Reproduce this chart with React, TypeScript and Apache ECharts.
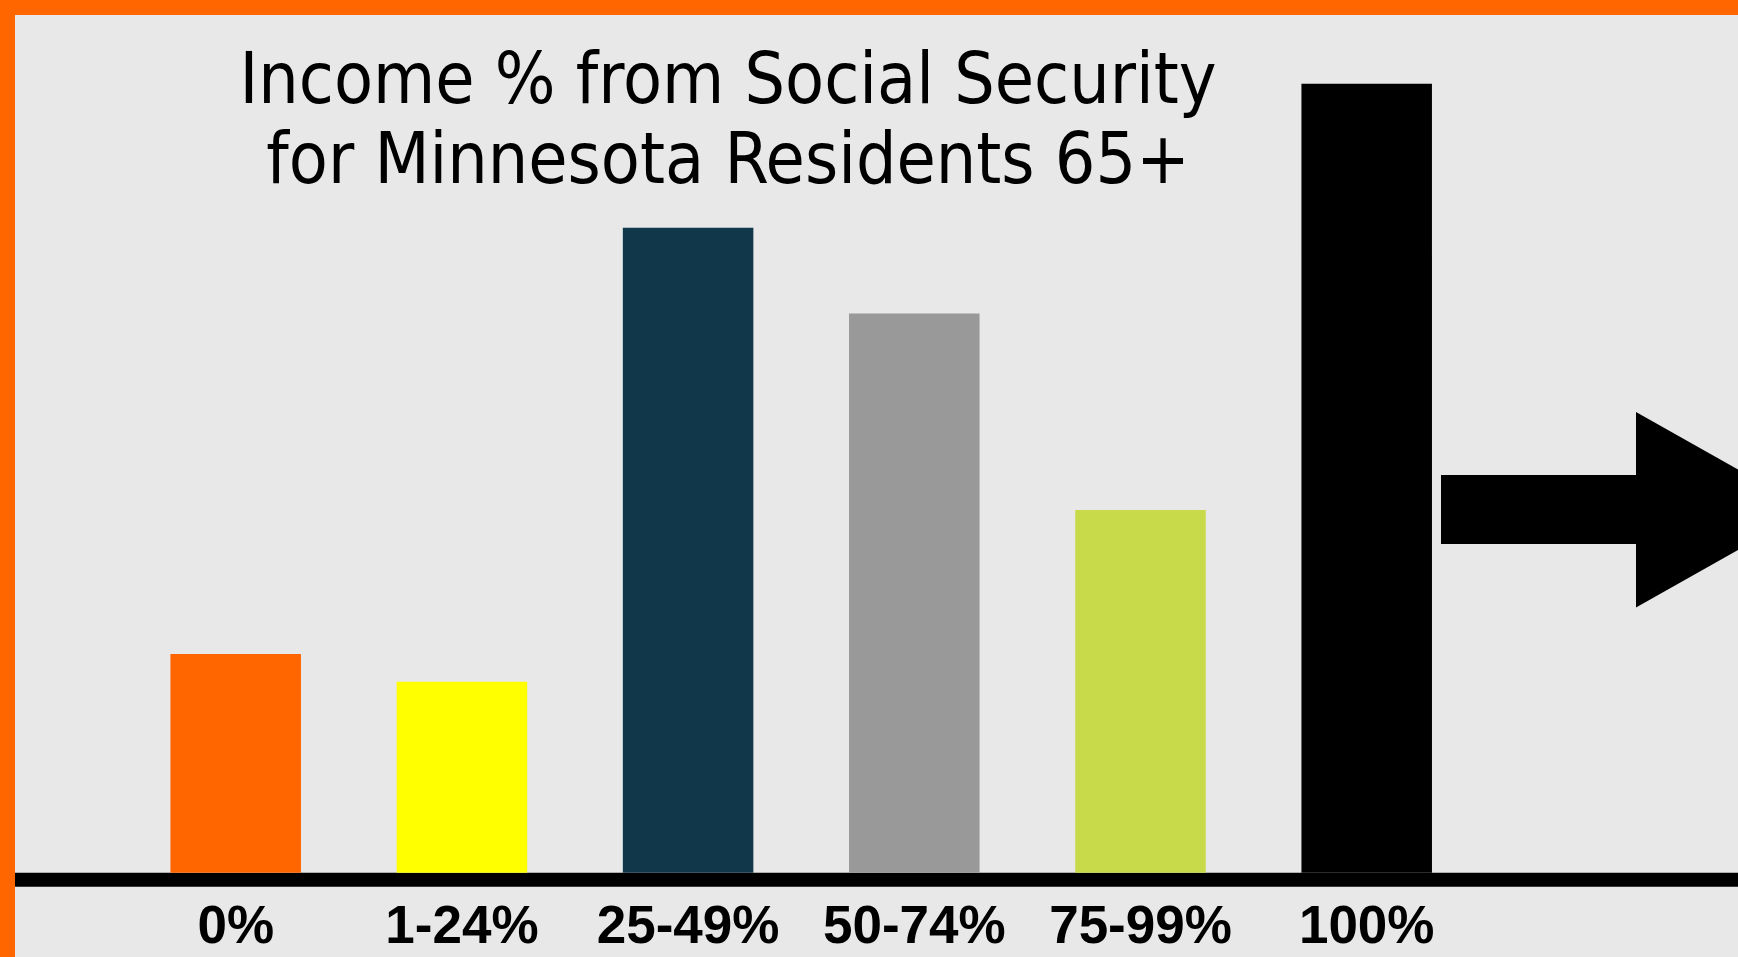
import React, { useEffect, useRef } from "react";
import * as echarts from "echarts";

// ---- data ----
const categories = ["0%", "1-24%", "25-49%", "50-74%", "75-99%", "100%"];
const shares = [7.9, 6.9, 23.3, 20.2, 13.1, 28.5];
const barColors = ["#ff6600", "#ffff00", "#11374a", "#999999", "#c8da4a", "#000000"];
const titleLines = ["Income % from Social Security", "for Minnesota Residents 65+"];

const W = 1738;
const H = 957;

export default function App() {
  const ref = useRef<HTMLDivElement>(null);

  useEffect(() => {
    if (!ref.current) return;
    const chart = echarts.init(ref.current, undefined, { renderer: "svg" });
    const option: any = {
      animation: false,
      backgroundColor: "#e8e8e8",
      title: {
        text: titleLines.join("\n"),
        left: 728,
        top: 38,
        textAlign: "center",
        padding: 0,
        textStyle: {
          fontFamily: '"DejaVu Sans Condensed", "Liberation Sans Narrow", "DejaVu Sans", sans-serif',
          fontSize: 71,
          fontWeight: "normal",
          color: "#000",
          lineHeight: 80.6,
        },
      },
      grid: { left: 122.6, right: 258.2, top: 42.3, bottom: 84.3, containLabel: false },
      xAxis: {
        type: "category",
        data: categories,
        axisLine: { show: false },
        axisTick: { show: false },
        splitLine: { show: false },
        axisLabel: {
          interval: 0,
          margin: 25,
          fontFamily: '"Liberation Sans", Arial, sans-serif',
          fontWeight: "bold",
          fontSize: 53,
          color: "#000",
        },
      },
      yAxis: { type: "value", min: 0, max: 30, show: false, splitLine: { show: false } },
      series: [
        {
          type: "bar",
          barWidth: "57.7%",
          data: shares.map((v, i) => ({ value: v, itemStyle: { color: barColors[i] } })),
        },
      ],
    };
    chart.setOption(option);

    const zeroY = chart.convertToPixel({ yAxisIndex: 0 }, 0) as number;
    chart.setOption({
      graphic: [
        // orange frame (top & left)
        { type: "rect", shape: { x: 0, y: 0, width: W, height: 15 }, style: { fill: "#ff6600" }, silent: true },
        { type: "rect", shape: { x: 0, y: 0, width: 15, height: H }, style: { fill: "#ff6600" }, silent: true },
        // baseline
        { type: "rect", shape: { x: 15, y: zeroY, width: W - 15, height: 14 }, style: { fill: "#000" }, silent: true },
        // arrow
        {
          type: "polygon",
          shape: {
            points: [
              [1441, 475],
              [1636, 475],
              [1636, 412],
              [1809.5, 509.7],
              [1636, 607.5],
              [1636, 544],
              [1441, 544],
            ],
          },
          style: { fill: "#000" },
          silent: true,
        },
      ],
    });

    return () => chart.dispose();
  }, []);

  return (
    <div
      ref={ref}
      style={{ position: "fixed", left: 0, top: 0, width: W, height: H, overflow: "hidden" }}
    />
  );
}
